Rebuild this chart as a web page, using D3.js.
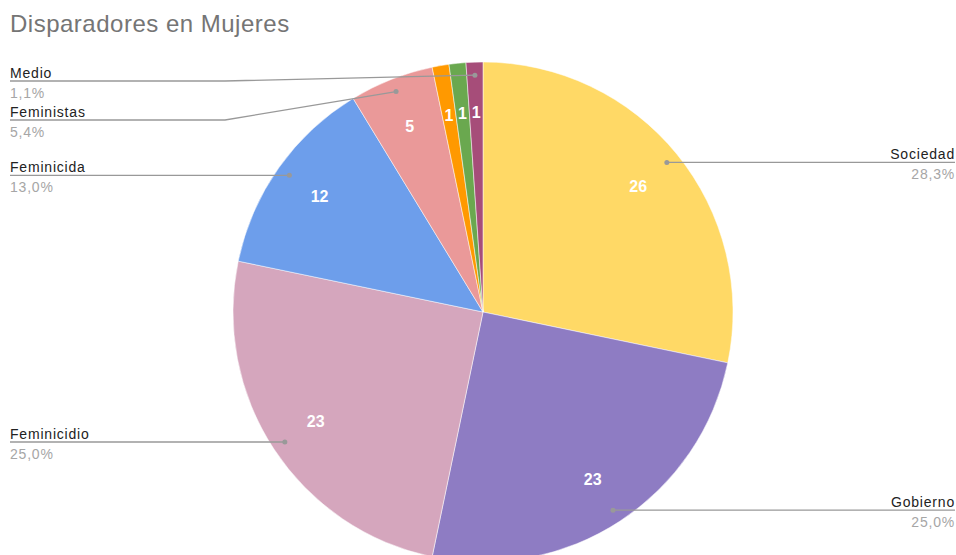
<!DOCTYPE html>
<html><head><meta charset="utf-8">
<script src="https://cdn.jsdelivr.net/npm/d3@7"></script>
<style>body{margin:0;background:#fff}svg{display:block}</style>
</head><body>
<svg id="c" width="956" height="555"></svg>
<script>
const categories = ["Sociedad","Gobierno","Feminicidio","Feminicida","Feministas","Otro A","Otro B","Medio"];
const values = [26,23,23,12,5,1,1,1];
const colors = ["#ffd966","#8e7cc3","#d5a6bd","#6d9eeb","#ea9999","#ff9900","#6aa84f","#a64d79"];
const showLabel = [true,true,true,true,true,false,false,true];
const title = "Disparadores en Mujeres";

const svg = d3.select("#c");
const W = 956, cx = 483, cy = 312, R = 250;
const total = d3.sum(values);
const fmt = v => (v/total*100).toFixed(1).replace(".", ",") + "%";
const FF = "Liberation Sans, Arial, sans-serif";

svg.append("text").attr("x",10).attr("y",32).attr("font-family",FF)
  .attr("font-size",24).attr("letter-spacing",0.5).attr("fill","#757575").text(title);

const data = categories.map((c,i)=>({c, v:values[i], col:colors[i], show:showLabel[i]}));
const pie = d3.pie().sort(null).value(d=>d.v);
const arcs = pie(data);
const arc = d3.arc().innerRadius(0).outerRadius(R);
const g = svg.append("g").attr("transform",`translate(${cx},${cy})`);
g.selectAll("path").data(arcs).join("path").attr("d",arc).attr("fill",d=>d.data.col)
  .attr("stroke","#fff").attr("stroke-width",0.5);

const valArc = d3.arc().innerRadius(200).outerRadius(200);
g.selectAll("text.v").data(arcs).join("text").attr("class","v")
  .attr("transform",d=>`translate(${valArc.centroid(d)})`)
  .attr("text-anchor","middle").attr("dy","0.36em")
  .attr("font-family",FF).attr("font-weight","bold")
  .attr("font-size",16).attr("fill","#fff").text(d=>d.data.v);

const dotArc = d3.arc().innerRadius(237).outerRadius(237);
const lineY = {"Sociedad":161,"Gobierno":508,"Feminicidio":440,"Feminicida":174,"Feministas":120,"Medio":81};
const lab = svg.append("g");
arcs.forEach(d=>{
  if(!d.data.show) return;
  const [dx,dy] = dotArc.centroid(d);
  const px = cx+dx, py = cy+dy;
  const mid = (d.startAngle+d.endAngle)/2;
  const right = mid < Math.PI;
  const ly = lineY[d.data.c];
  let pts;
  if (Math.abs(ly-py) < 3) {
    pts = right ? [[px,py],[W-1,py]] : [[px,py],[10,py]];
  } else {
    pts = [[px,py],[225,ly],[10,ly]];
  }
  lab.append("path").attr("d",d3.line()(pts)).attr("fill","none").attr("stroke","#999").attr("stroke-width",1.3);
  lab.append("circle").attr("cx",px).attr("cy",py).attr("r",2.5).attr("fill","#999");
  const ty = pts[pts.length-1][1];
  const tx = right ? W-1 : 10;
  const anchor = right ? "end" : "start";
  lab.append("text").attr("x",tx).attr("y",ty-3).attr("text-anchor",anchor)
    .attr("font-family",FF).attr("font-size",14).attr("letter-spacing",0.8).attr("fill","#222").text(d.data.c);
  lab.append("text").attr("x",tx).attr("y",ty+17).attr("text-anchor",anchor)
    .attr("font-family",FF).attr("font-size",14).attr("letter-spacing",0.8).attr("fill","#a6a6a6").text(fmt(d.data.v));
});
</script>
</body></html>
